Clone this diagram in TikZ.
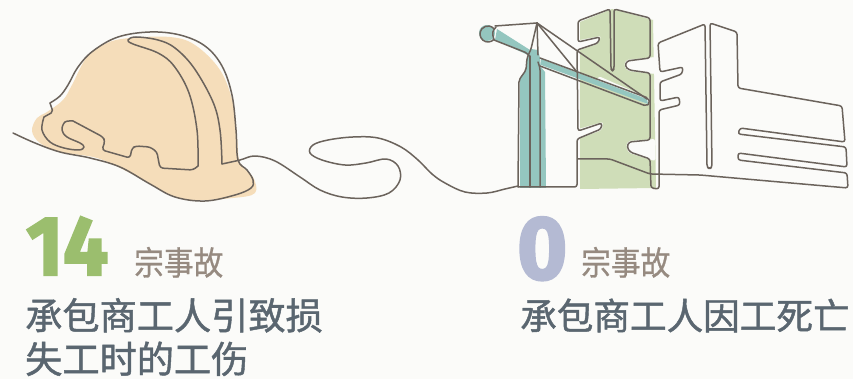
\documentclass[tikz,border=0pt]{standalone}
\usepackage{fontspec}
\newfontfamily\cjk{Noto Sans CJK SC}[FakeBold=1.2]
\newfontfamily\cjkunit{Noto Sans CJK SC}[FakeBold=0.8, FakeStretch=0.9]
\newfontfamily\numf{Fira Sans}[FakeStretch=0.95, FakeBold=2.5]
\definecolor{bgc}{HTML}{FBFBF9}
\definecolor{linec}{HTML}{6B635C}
\definecolor{helmetc}{HTML}{F5DDBA}
\definecolor{greenc}{HTML}{CFDDB8}
\definecolor{tealc}{HTML}{94C6BF}
\definecolor{numgreen}{HTML}{9BBE6E}
\definecolor{numlav}{HTML}{B4BAD3}
\definecolor{unitc}{HTML}{968A80}
\definecolor{txtc}{HTML}{5A6670}
\tikzset{
  sketch/.style={draw=linec, line width=1.5pt, line join=round, line cap=round},
  halo/.style={draw=bgc, line width=6pt, line cap=round},
  maintext/.style={anchor=base west, inner sep=0pt, text=txtc, font=\cjk\fontsize{37.2}{37.2}\selectfont},
  unittext/.style={anchor=base west, inner sep=0pt, text=unitc, font=\cjkunit\fontsize{33}{33}\selectfont},
  numtext/.style={anchor=base west, inner sep=0pt, font=\numf\bfseries\fontsize{84}{84}\selectfont},
}
\begin{document}
\begin{tikzpicture}[x=1pt,y=-1pt]
\fill[bgc] (0,0) rectangle (853,379);
\useasboundingbox (0,0) rectangle (853,379);

% ---------- helmet fill ----------
\fill[helmetc] plot[smooth cycle, tension=0.6] coordinates {
 (47,112) (37,118) (32,131) (40,143) (60,152) (97,158) (130,173) (170,195)
 (193,200) (233,198) (255,193) (253,177) (240,163) (237,137) (233,103)
 (220,70) (195,45) (170,37) (130,38) (107,43) (87,57) (72,85) (63,100)};

% ---------- helmet outline ----------
\draw[sketch] plot[smooth, tension=0.6] coordinates {
 (13,133) (35,143) (60,152) (90,158) (120,167) (150,184) (175,197) (205,201)
 (235,195) (251,188) (253,180) (247,170) (238,160) (236,130) (232,95) (222,66)
 (205,46) (180,35) (150,32) (118,37) (93,51) (78,67) (68,85) (60,96) (50,103)};
\draw[sketch, rounded corners=2pt] (50,103) -- (53,112) -- (44,117);
\draw[sketch] plot[smooth, tension=0.6] coordinates {
 (44,117) (42,130) (50,142) (64,148) (79,150) (84,147) (80,143) (67,137)
 (62,130) (65,122) (73,121)};
\draw[sketch, rounded corners=3pt] (73,121) -- (103,137) -- (105,141) -- (102,150)
 -- (130,158) -- (132,148) -- (136,146) -- (150,147) -- (157,152) -- (158,158)
 -- (160,168) -- (193,170) -- (198,166);
\draw[sketch] plot[smooth, tension=0.6] coordinates {
 (198,166) (197,130) (189,93) (174,66) (158,53) (133,44) (128,40) (136,37)
 (158,40) (175,48) (194,68) (213,102) (220,130) (222,164)};

% ---------- wire ----------
\draw[sketch] plot[smooth, tension=0.6] coordinates {
 (222,164) (240,160) (255,156) (275,161) (300,177) (320,190) (342,197)
 (367,198) (389,193) (400,180) (398,166) (386,159) (366,163) (345,165)
 (322,160) (310,153) (313,145) (328,140) (353,137) (378,138) (401,147)
 (418,160) (432,174) (445,183) (465,192) (487,193) (505,189) (518,186)};

% ---------- fills: green building and crane ----------
\fill[greenc] (580,22) -- (612,9) -- (653,20) -- (656,188) -- (580,189) -- cycle;
\fill[bgc, rounded corners=2pt] (575,51) -- (598,44) -- (601,36) -- (575,41) -- cycle;
\fill[bgc, rounded corners=2pt] (575,140) -- (602,130) -- (603,122) -- (575,130) -- cycle;
\fill[bgc, rounded corners=2pt] (655,57) -- (626,60) -- (624,66) -- (628,71) -- (655,74) -- cycle;
\fill[bgc, rounded corners=2pt] (655,139) -- (628,141) -- (626,147) -- (629,153) -- (655,161) -- cycle;
\fill[tealc] (520,188) -- (520,78) -- (526,70) -- (527,58) -- (531,49) -- (538,50)
 -- (540,58) -- (541,67) -- (545,72) -- (546,188) -- cycle;
\fill[tealc] (497,29) -- (530,50) -- (528,55) -- (495,40) -- cycle;
\fill[tealc] (487,33) circle[radius=8];

% halo around the jib
\draw[halo] (600,80) -- (648,101);
\fill[tealc] (541,59) -- (647,99) -- (648,104) -- (541,65) -- cycle;

% ---------- crane lines ----------
\draw[sketch, rounded corners=2pt] (518,187) -- (519,80) -- (526,70) -- (527,58) -- (531,49) -- (537,23);
\draw[sketch] (530,187) -- (530,56);
\draw[sketch, rounded corners=2pt] (540,187) -- (540,68) -- (538,62);
\draw[sketch] (495,26) -- (537,23);
\draw[sketch, rounded corners=2pt] (494,40) -- (527,53) -- (530,57);
\draw[sketch] (496,27) .. controls (492,32) .. (494,40);
\draw[sketch] ([shift={(40:8)}]488,34) arc[start angle=40, end angle=320, radius=8];
\draw[sketch] (537,23) -- (538,55);
\draw[sketch] (537,23) -- (577,72);
\draw[sketch] (537,23) -- (647,99);
\draw[sketch, rounded corners=2pt] (540,58) -- (648,98) -- (650,103) -- (646,106) -- (540,66);

% ---------- buildings ----------
\draw[sketch, rounded corners=2.5pt] (518,187) -- (577,187) -- (577,139) -- (601,129) -- (602,123)
 -- (578,131) -- (577,50) -- (598,43) -- (600,37) -- (578,42) -- (578,21) -- (610,9)
 -- (611,69) -- (612.5,71) -- (614,69) -- (614,9) -- (650,18) -- (650,58) -- (627,61)
 -- (625,66) -- (629,70) -- (650,73) -- (650,140) -- (629,142) -- (627,147) -- (630,152)
 -- (650,159) -- (651,188) -- (659,189) -- (659,110) -- (680,105) -- (679,97) -- (660,101)
 -- (660,82) -- (682,74) -- (683,67) -- (660,72) -- (658,43) -- (705,24) -- (707,167)
 -- (709.5,169) -- (712,167) -- (710,23) -- (737,32) -- (738,88) -- (842,106) -- (845,142)
 -- (740,128) -- (738,134) -- (846,147) -- (847,167) -- (738,153) -- (738,160)
 -- (847,173) -- (848,188) -- (700,175) -- (650,174) -- (610,159) -- (577,159);

% ---------- texts ----------
\node[numtext, text=numgreen] (n14) at (26,275) {14};
\node[unittext] (u1) at (134,275) {宗事故};
\node[maintext] (l1) at (25,329.5) {承包商工人引致损};
\node[maintext] (l2) at (25,373) {失工时的工伤};
\node[numtext, text=numlav, font=\numf\bfseries\fontsize{90}{90}\selectfont] (n0) at (517,279) {0};
\node[unittext] (u2) at (581,275) {宗事故};
\node[maintext, font=\cjk\fontsize{36.6}{36.6}\selectfont] (r1) at (520,329.5) {承包商工人因工死亡};
\end{tikzpicture}
\end{document}
